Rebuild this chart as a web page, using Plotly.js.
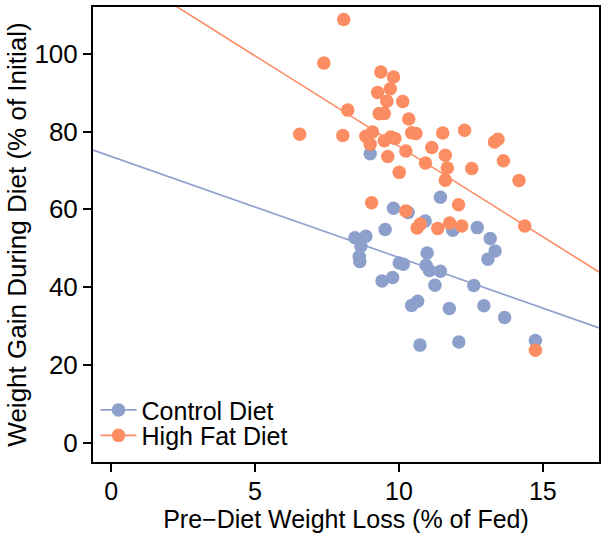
<!DOCTYPE html>
<html>
<head>
<meta charset="utf-8">
<script src="https://cdn.plot.ly/plotly-3.0.1.min.js"></script>
<style>html,body{margin:0;padding:0;background:#fff;}#chart{width:601px;height:535px;}</style>
</head>
<body>
<div id="chart"></div>
<script>
// Control Diet
const controlX = [9.0, 11.44, 9.81, 10.32, 10.91, 11.87, 12.72, 13.17, 13.34, 13.09, 9.52, 8.47, 8.85, 8.68, 8.62, 8.64, 10.98, 10.01, 10.15, 10.94, 11.06, 11.44, 9.41, 9.78, 11.25, 12.6, 10.44, 10.65, 11.75, 12.95, 13.67, 10.73, 12.08, 14.74];
const controlY = [74.3, 63.1, 60.3, 59.2, 57.0, 54.6, 55.3, 52.5, 49.3, 47.2, 54.8, 52.7, 53.1, 50.5, 47.9, 46.6, 48.8, 46.2, 45.9, 45.6, 44.3, 44.1, 41.6, 42.5, 40.5, 40.4, 35.3, 36.4, 34.5, 35.2, 32.2, 25.1, 25.9, 26.3];
// High Fat Diet
const highFatX = [8.08, 7.39, 8.22, 6.55, 8.05, 9.37, 9.81, 9.26, 9.70, 9.58, 10.13, 9.31, 9.49, 10.34, 9.08, 8.85, 9.0, 9.49, 9.72, 9.86, 10.44, 10.59, 11.52, 12.28, 13.32, 13.44, 9.61, 10.24, 11.14, 11.61, 10.92, 11.68, 12.53, 13.63, 10.01, 11.61, 14.17, 9.05, 12.07, 10.24, 10.63, 10.74, 11.35, 11.76, 12.18, 14.37, 14.74];
const highFatY = [108.8, 97.6, 85.5, 79.3, 79.0, 95.3, 94.0, 90.0, 91.0, 87.8, 87.7, 84.6, 84.6, 83.2, 79.9, 78.8, 76.7, 77.6, 78.6, 78.2, 79.7, 79.5, 79.6, 80.3, 77.3, 78.0, 73.6, 75.0, 75.9, 73.9, 71.9, 70.6, 70.5, 72.5, 69.5, 67.5, 67.4, 61.7, 61.2, 59.6, 55.2, 56.2, 55.1, 56.5, 55.7, 55.7, 23.8];
// Fitted regression lines (intercept, slope)
const controlFit = [73.6, -2.60];
const highFatFit = [122.7, -4.65];
const seriesNames = ["Control Diet", "High Fat Diet"];
const xTicks = [0, 5, 10, 15];
const yTicks = [0, 20, 40, 60, 80, 100];

const xRange = [-0.63, 16.95];
const yRange = [-4.94, 112.0];
const blue = "#8DA0CB", orange = "#FC8D62";

function fitLine(fit) {
  return { x: xRange.slice(), y: xRange.map(v => fit[0] + fit[1] * v) };
}
const cl = fitLine(controlFit), hl = fitLine(highFatFit);

const traces = [
  {x: cl.x, y: cl.y, mode: "lines", line: {color: blue, width: 1.6}, showlegend: false, hoverinfo: "skip"},
  {x: hl.x, y: hl.y, mode: "lines", line: {color: orange, width: 1.6}, showlegend: false, hoverinfo: "skip"},
  {x: controlX, y: controlY, mode: "markers", marker: {color: blue, size: 13.5}, showlegend: false},
  {x: highFatX, y: highFatY, mode: "markers", marker: {color: orange, size: 13.5}, showlegend: false},
  {x: [null], y: [null], mode: "lines+markers", name: seriesNames[0], legend: "legend", line: {color: blue, width: 1.6}, marker: {color: blue, size: 13.5}},
  {x: [null], y: [null], mode: "lines+markers", name: seriesNames[1], legend: "legend2", line: {color: orange, width: 1.6}, marker: {color: orange, size: 13.5}}
];

const axFont = {family: "Liberation Sans, Arial, sans-serif", size: 26, color: "#000"};
const xFont = {family: "Liberation Sans, Arial, sans-serif", size: 25, color: "#000"};
const legFont = {family: "Liberation Sans, Arial, sans-serif", size: 25, color: "#000"};
const legBase = {x: 0.005, xanchor: "left", yanchor: "middle", bgcolor: "rgba(0,0,0,0)", font: legFont, itemwidth: 36, borderwidth: 0};
const layout = {
  width: 601, height: 535,
  margin: {l: 93, r: 2, t: 7, b: 73},
  paper_bgcolor: "#fff", plot_bgcolor: "#fff",
  font: axFont,
  showlegend: true,
  legend: Object.assign({}, legBase, {y: 0.114}),
  legend2: Object.assign({}, legBase, {y: 0.058}),
  xaxis: {
    range: xRange, tickvals: xTicks, ticktext: xTicks.map(String),
    showgrid: false, zeroline: false, showline: true, mirror: true, linecolor: "#000", linewidth: 2,
    ticks: "outside", ticklen: 8, tickwidth: 2, tickcolor: "#000", tickfont: xFont, ticklabelstandoff: -2,
    title: {text: "Pre\u2212Diet Weight Loss (% of Fed)", font: xFont, standoff: 6}, automargin: false
  },
  yaxis: {
    range: yRange, tickvals: yTicks, ticktext: yTicks.map(String),
    showgrid: false, zeroline: false, showline: true, mirror: true, linecolor: "#000", linewidth: 2,
    ticks: "outside", ticklen: 8, tickwidth: 2, tickcolor: "#000", tickfont: axFont,
    title: {text: "Weight Gain During Diet (% of Initial)", font: axFont, standoff: 0}, automargin: false
  }
};
Plotly.newPlot("chart", traces, layout, {displayModeBar: false, staticPlot: true});
</script>
</body>
</html>
